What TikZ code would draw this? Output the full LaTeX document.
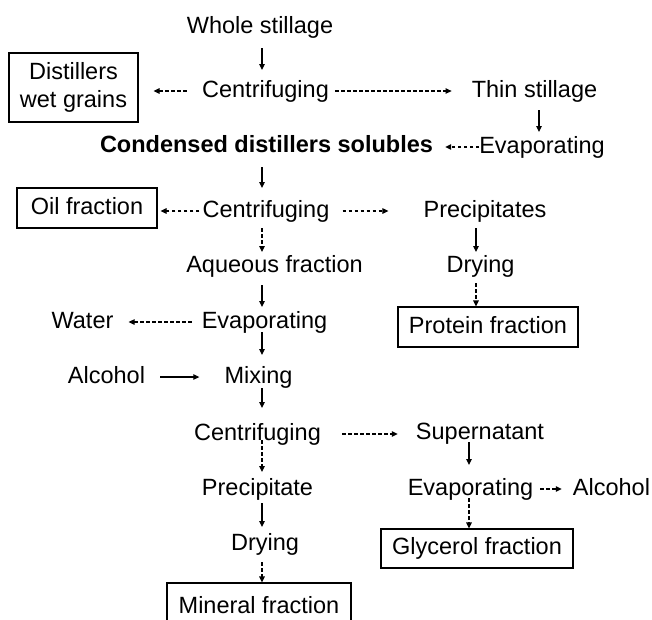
\documentclass[tikz,border=0pt]{standalone}
\usepackage{fontspec}
\setmainfont{Liberation Sans}
\usetikzlibrary{arrows.meta}

\begin{document}
\begin{tikzpicture}[x=1pt,y=-1pt]
		\tikzset{lbl/.style = {inner sep=0pt, text height=17pt, text depth=5pt, anchor=base}}
		\tikzset{fracbox/.style = {draw, line width=1.1pt, inner sep=0pt, text height=17pt, text depth=5pt}}
		\tikzset{flow/.style = {line width=1.1pt, -{Triangle[length=6pt,width=5.5pt]}}}
		\tikzset{side/.style = {flow, dash pattern=on 3.5pt off 2.5pt}}
		\tikzset{every node/.style = {font=\fontsize{23.5}{28}\selectfont}}

		\clip (0,0) rectangle (652,619);

		\coordinate (spine) at (262,0);
		\coordinate (thinx) at (539,0);
		\coordinate (protx) at (476,0);
		\coordinate (glycx) at (469,0);

		\node[lbl] (ws) at (260,33) {Whole stillage};
		\node[lbl] (c1) at (265.5,97) {Centrifuging};
		\node[fracbox, minimum width=129pt, minimum height=69pt, align=center, text height=, text depth=] (dwg) at (73.5,87.5) {Distillers\\wet grains};
		\node[lbl] (thin) at (534.5,97) {Thin stillage};
		\node[lbl] (ev1) at (542,153) {Evaporating};
		\node[lbl, font=\fontsize{23.5}{28}\selectfont\bfseries] (cds) at (266.5,152) {Condensed distillers solubles};

		\node[lbl] (c2) at (266,217) {Centrifuging};
		\node[fracbox, minimum width=140pt, minimum height=40pt] (oil) at (87,208) {Oil fraction};
		\node[lbl] (pcs) at (485,217) {Precipitates};
		\node[lbl] (dry1) at (480.5,272) {Drying};
		\node[fracbox, minimum width=180pt, minimum height=40pt] (prot) at (488,327) {Protein fraction};
		\node[lbl] (aq) at (274.5,272) {Aqueous fraction};
		\node[lbl] (ev2) at (264.5,328) {Evaporating};
		\node[lbl] (water) at (82.5,328) {Water};
		\node[lbl] (mix) at (258.5,383) {Mixing};
		\node[lbl] (alc1) at (106.5,383) {Alcohol};

		\node[lbl] (c3) at (257.5,440) {Centrifuging};
		\node[lbl] (sup) at (480,439) {Supernatant};
		\node[lbl] (ev3) at (470.5,495) {Evaporating};
		\node[lbl] (alc2) at (611.5,495) {Alcohol};
		\node[fracbox, minimum width=192pt, minimum height=39pt] (glyc) at (477,548.5) {Glycerol fraction};
		\node[lbl] (pc) at (257.5,495) {Precipitate};
		\node[lbl] (dry2) at (265,550) {Drying};
		\node[fracbox, minimum width=184pt, minimum height=48pt] (mineral) at (259,607) {Mineral fraction};

		% main column
		\draw[flow, shorten <=15pt, shorten >=27pt] (ws.base -| spine) -- (c1.base -| spine);
		\draw[flow, shorten <=15pt, shorten >=29pt] (cds.base -| spine) -- (c2.base -| spine);
		\draw[side, shorten <=11pt, shorten >=20pt] (c2.base -| spine) -- (aq.base -| spine);
		\draw[flow, shorten <=13pt, shorten >=21pt] (aq.base -| spine) -- (ev2.base -| spine);
		\draw[flow, shorten <=4pt, shorten >=28pt] (ev2.base -| spine) -- (mix.base -| spine);
		\draw[flow, shorten <=5pt, shorten >=32pt] (mix.base -| spine) -- (c3.base -| spine);
		\draw[side] (c3.base -| spine) -- ([yshift=23pt]pc.base -| spine);
		\draw[flow, shorten <=8pt, shorten >=23pt] (pc.base -| spine) -- (dry2.base -| spine);
		\draw[side, shorten <=12pt] (dry2.base -| spine) -- (mineral.north -| spine);

		% right column
		\draw[flow, shorten <=13pt, shorten >=21pt] (thin.base -| thinx) -- (ev1.base -| thinx);
		\draw[flow, shorten <=11pt, shorten >=20pt] (pcs.base -| protx) -- (dry1.base -| protx);
		\draw[side, shorten <=11pt] (dry1.base -| protx) -- (prot.north -| protx);
		\draw[flow, shorten <=3pt, shorten >=30pt] (sup.base -| glycx) -- (ev3.base -| glycx);
		\draw[side, shorten <=3pt] (ev3.base -| glycx) -- (glyc.north -| glycx);

		% side streams
		\draw[side, shorten <=15pt, shorten >=15pt] (c1.west) -- (c1.west -| dwg.east);
		\draw[side, shorten <=6pt, shorten >=20pt] (c1.east) -- (thin.west);
		\draw[side, shorten >=12pt] (ev1.west) -- (ev1.west -| cds.east);
		\draw[side, shorten <=3pt, shorten >=3pt] (c2.west) -- (c2.west -| oil.east);
		\draw[side, shorten <=13pt, shorten >=35pt] (c2.east) -- (pcs.west);
		\draw[side, shorten <=10pt, shorten >=15pt] (ev2.west) -- (water.east);
		\draw[flow, shorten <=15pt, shorten >=25pt] (alc1.east) -- (mix.west);
		\draw[side, shorten <=21pt, shorten >=18pt] (c3.east) -- (c3.east -| sup.west);
		\draw[side, shorten <=7pt, shorten >=11pt] (ev3.east) -- (alc2.west);
\end{tikzpicture}
\end{document}
